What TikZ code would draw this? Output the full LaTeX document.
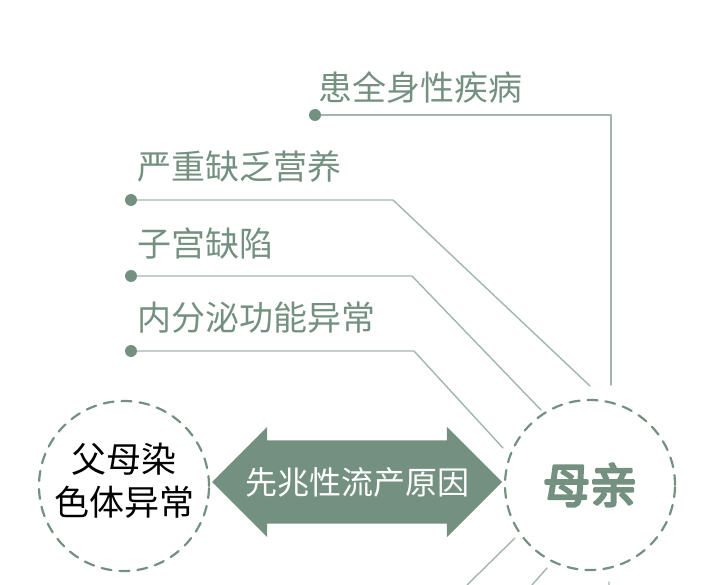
\documentclass[tikz,border=0pt]{standalone}
\usepackage{fontspec}
\setmainfont{Noto Sans CJK SC}
\newfontfamily\dam[FakeBold=5]{Noto Sans CJK SC}
\usetikzlibrary{shapes.arrows}
\definecolor{xanh}{RGB}{116,144,128}
\definecolor{xam}{RGB}{163,182,173}
\begin{document}
\begin{tikzpicture}[x=1pt,y=-1pt, line join=round, line cap=round,
	cham/.style={circle,fill=xanh,inner sep=0,minimum size=12pt},
	nhan/.style={anchor=west,inner sep=0,text=xanh,font=\fontsize{34}{34}\selectfont},
	noi/.style={draw=xam,line width=1.4pt},
	vong/.style={circle,draw=xanh,dash pattern=on 10pt off 8pt,line width=2.2pt,minimum size=170pt,inner sep=0}]
	\useasboundingbox (0,0) rectangle (720,585);
	% hai vong tron
	\node[vong] (cha) at (124,486) {};
	\node[align=center,inner sep=0,font=\fontsize{35}{43}\selectfont] (chu1) at ([yshift=5pt]cha.center) {父母染\\色体异常};
	\node[vong,text=xanh,font=\fontsize{47}{47}\dam] (me) at (590,485) {母亲};
	% mui ten hai dau
	\node[double arrow,fill=xanh,minimum height=290pt,inner xsep=0,inner ysep=41.5pt,double arrow head extend=13.5pt,double arrow tip angle=90] (mui) at (357,482) {};
	\node[text=white,font=\fontsize{32}{32}\selectfont] (chu) at (mui) {先兆性流产原因};
	% nguyen nhan
	\node[cham] (d1) at (315,115) {};
	\node[nhan] (l1) at (318,88) {患全身性疾病};
	\coordinate (g1) at (611,115); \coordinate (e1) at (611,385);
	\draw[noi] (d1) -- (g1) -- (e1);
	\foreach \ten/\y/\gx/\ex/\ey [count=\i from 2] in {严重缺乏营养/200/393/590/386, 子宫缺陷/276/412/541/410, 内分泌功能异常/351/414/503/448}{
		\node[cham] (d\i) at (131,\y) {};
		\node[nhan] (l\i) at (137,{\y-33}) {\ten};
		\coordinate (g\i) at (\gx,\y); \coordinate (e\i) at (\ex,\ey);
		\draw[noi] (d\i) -- (g\i) -- (e\i);
	}
	% duong phia duoi
	\coordinate (e5) at (515,538); \coordinate (f5) at (467,585);
	\coordinate (e6) at (547,568); \coordinate (f6) at (532,585);
	\coordinate (e7) at (609,582); \coordinate (f7) at (609,585);
	\draw[noi] (e5) -- (f5) (e6) -- (f6) (e7) -- (f7);
\end{tikzpicture}
\end{document}
